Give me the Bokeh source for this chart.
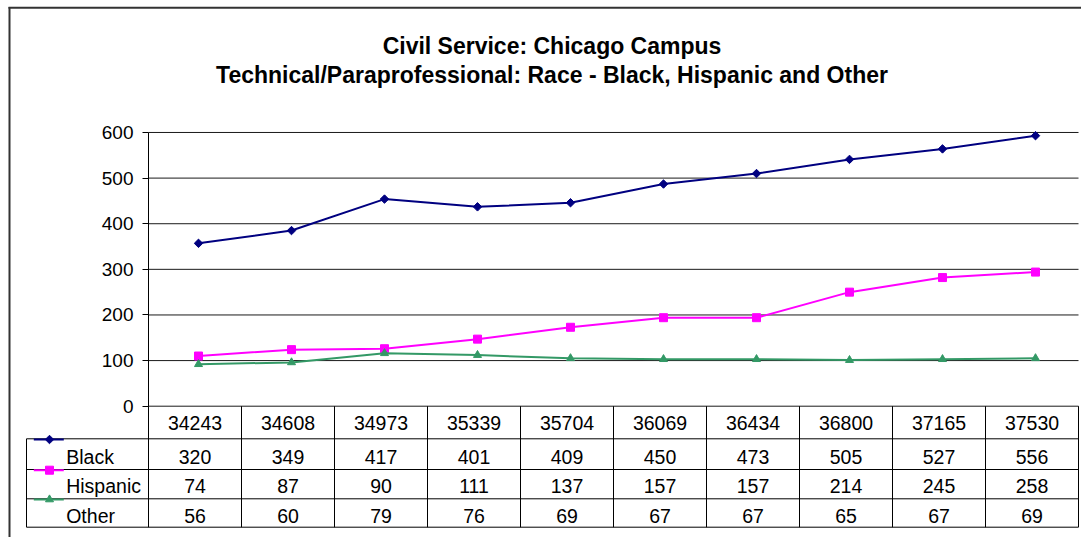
import math
from bokeh.plotting import figure
from bokeh.models import Range1d, FixedTicker
from bokeh.core.properties import value
from bokeh.embed import file_html
from bokeh.resources import INLINE

# ---------------- data ----------------
title_lines = ["Civil Service: Chicago Campus",
               "Technical/Paraprofessional: Race - Black, Hispanic and Other"]
categories = ["34243", "34608", "34973", "35339", "35704",
              "36069", "36434", "36800", "37165", "37530"]
series_names = ["Black", "Hispanic", "Other"]
# plotted positions
black = [357, 385, 454, 437, 446, 487, 510, 541, 564, 593]
hispanic = [110, 124, 126, 147, 173, 194, 194, 250, 282, 294]
other = [92, 96, 116, 112, 105, 103, 103, 101, 103, 105]
# values printed in the data table
black_table = [320, 349, 417, 401, 409, 450, 473, 505, 527, 556]
hispanic_table = [74, 87, 90, 111, 137, 157, 157, 214, 245, 258]
other_table = [56, 60, 79, 76, 69, 67, 67, 65, 67, 69]
y_ticks = [0, 100, 200, 300, 400, 500, 600]

# ---------------- styles ----------------
colors = ["#000080", "#FF00FF", "#339966"]
markers = ["square", "square", "triangle"]
marker_angles = [math.pi / 4, 0, 0]
marker_sizes = [6, 8, 8]
FONT = value("Liberation Sans")

# ---------------- layout (page pixels) ----------------
W, H = 1081, 537
X0, COL = 148.0, 93.0          # plot-area left, px per category
Y0, K = 405.7, 0.4562          # y of value 0, px per unit
SHIFT = 3.5 / COL              # markers sit slightly right of column centre

def ux(px):
    return (px - X0) / COL

def vy(py):
    return (Y0 - py) / K

p = figure(width=W, height=H, output_backend="svg", toolbar_location=None,
           x_range=Range1d(ux(0), ux(W)), y_range=Range1d(vy(H), vy(0)),
           x_axis_location=None, min_border=0)
p.outline_line_color = None
p.grid.visible = False
p.background_fill_color = "white"
p.border_fill_color = "white"

n = len(categories)

# outer chart border (left and top edges visible)
p.segment(x0=[ux(9), ux(8)], y0=[vy(6.5), vy(7.3)],
          x1=[ux(9), ux(1100)], y1=[vy(560), vy(7.3)],
          line_color="#333333", line_width=2)

# gridlines
p.segment(x0=[0] * len(y_ticks), y0=y_ticks, x1=[n] * len(y_ticks), y1=y_ticks,
          line_color="#1a1a1a", line_width=1)

# y axis at x = 0
ax = p.yaxis[0]
ax.fixed_location = 0
ax.ticker = FixedTicker(ticks=y_ticks)
ax.bounds = (y_ticks[0], y_ticks[-1])
ax.major_tick_in = 0
ax.major_tick_out = 6
ax.minor_tick_line_color = None
ax.axis_line_color = "black"
ax.major_tick_line_color = "black"
ax.major_label_standoff = 9
ax.major_label_text_font = "Liberation Sans"
ax.major_label_text_font_size = "19px"
ax.major_label_text_color = "black"

# title
p.text(x=[ux(551.5)] * 2, y=[vy(45.3), vy(74.6)], text=title_lines,
       text_align="center", text_baseline="middle",
       text_font=FONT, text_font_style="bold", text_font_size="23px",
       text_color="black")

# series
xs = [i + 0.5 + SHIFT for i in range(n)]
for vals, c, m, a, s in zip([black, hispanic, other], colors, markers,
                            marker_angles, marker_sizes):
    p.line(xs, vals, line_color=c, line_width=2)
    p.scatter(xs, vals, marker=m, angle=a, size=s, fill_color=c, line_color=c)

# ---------------- data table ----------------
row_lines = [438.3, 469.0, 498.3, 526.7]
left_px = 26
# horizontal lines
p.segment(x0=[ux(left_px)] * len(row_lines), y0=[vy(r) for r in row_lines],
          x1=[n] * len(row_lines), y1=[vy(r) for r in row_lines],
          line_color="black", line_width=1)
# vertical lines
p.segment(x0=list(range(n + 1)), y0=[0] * (n + 1),
          x1=list(range(n + 1)), y1=[vy(row_lines[-1])] * (n + 1),
          line_color="black", line_width=1)
p.segment(x0=[ux(left_px)], y0=[vy(row_lines[0])], x1=[ux(left_px)],
          y1=[vy(row_lines[-1])], line_color="black", line_width=1)

# header (categories)
centers = [i + 0.5 for i in range(n)]
p.text(x=centers, y=[vy(422.8)] * n, text=categories, text_align="center",
       text_baseline="middle", text_font=FONT, text_font_size="19.5px",
       text_color="black")
mids = [456.3, 485.2, 515.0]
for name, tbl, mid, top, c, m, a, s in zip(series_names,
                                           [black_table, hispanic_table, other_table],
                                           mids, row_lines[:3], colors, markers,
                                           marker_angles, marker_sizes):
    p.text(x=centers, y=[vy(mid)] * n, text=[str(v) for v in tbl],
           text_align="center", text_baseline="middle", text_font=FONT,
           text_font_size="19.5px", text_color="black")
    p.text(x=[ux(65.7)], y=[vy(mid)], text=[name], text_align="left",
           text_baseline="middle", text_font=FONT, text_font_size="19.5px",
           text_color="black")
    # legend key
    p.line([ux(33.3), ux(63.3)], [vy(top + 0.7)] * 2, line_color=c, line_width=2)
    p.scatter([ux(49)], [vy(top + 0.7)], marker=m, angle=a, size=s,
              fill_color=c, line_color=c)

open("out.html", "w").write(file_html(p, INLINE))
